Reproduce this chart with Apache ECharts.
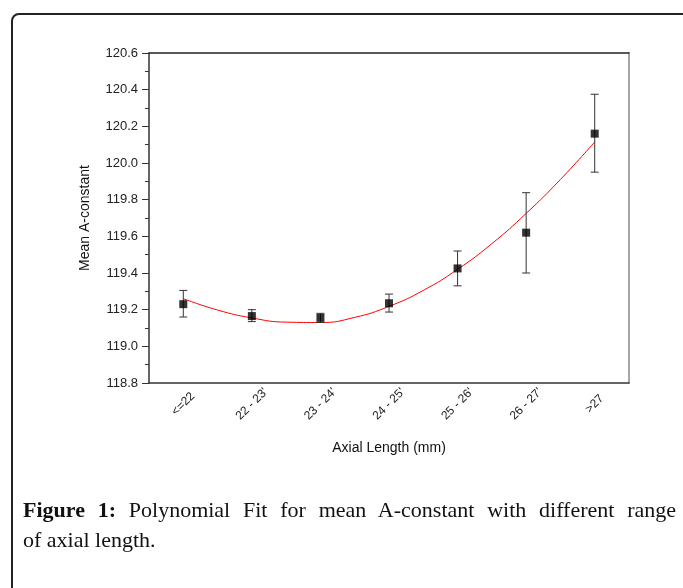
<!DOCTYPE html>
<html>
<head>
<meta charset="UTF-8">
<title>A-constant fit</title>
<script src="https://cdn.jsdelivr.net/npm/echarts@6/dist/echarts.min.js"></script>
<style type="text/css">
  body { margin:0; background:#fff; }
  #frame {
    position:absolute; left:11px; top:13px; width:700px; height:600px;
    border:2px solid #222; border-radius:8px;
  }
  #main { position:absolute; left:0; top:0; width:683px; height:588px; }
  #caption {
    position:absolute; left:23px; top:495px; width:653px;
    font-family:"Liberation Serif", "DejaVu Serif", serif;
    font-size:22px; line-height:30px; color:#111;
  }
  #caption .l1 { text-align:justify; text-align-last:justify; }
  #caption b { font-weight:bold; }
</style>
<script>
// categories + means
var cats = ['<=22', "22 - 23'", "23 - 24'", "24 - 25'", "25 - 26'", "26 - 27'", '>27'];
var means = [119.23, 119.165, 119.155, 119.235, 119.425, 119.62, 120.16];
var errLow = [119.16, 119.135, 119.13, 119.187, 119.33, 119.40, 119.95];
var errHigh = [119.305, 119.2, 119.18, 119.285, 119.52, 119.838, 120.375];
// fitted curve read at half-category steps
var fitX = [0, 0.5, 1, 1.5, 2, 2.5, 3, 3.5, 4, 4.5, 5, 5.5, 6];
var fitY = [119.26, 119.198, 119.155, 119.132, 119.13, 119.158, 119.218, 119.305, 119.42, 119.56, 119.725, 119.91, 120.115];
var yMin = 118.8, yMax = 120.6, yStep = 0.2;
</script>
</head>
<body>
<div id="frame"></div>
<div id="main"></div>
<div id="caption">
  <div class="l1"><b>Figure 1:</b> Polynomial Fit for mean A-constant with different range</div>
  <div>of axial length.</div>
</div>
<script>
  var myChart = echarts.init(document.getElementById('main'));
  var font = 'Liberation Sans, Arial, sans-serif';

  var errData = [];
  for (var i = 0; i < cats.length; i++) errData.push([i, errLow[i], errHigh[i]]);
  var fitData = [];
  for (var j = 0; j < fitX.length; j++) fitData.push([fitX[j], fitY[j]]);

  var option = {
    animation: false,
    grid: { left:149, right:54, top:53, bottom:205 },
    xAxis: [
      {
        type:'category', data:cats, boundaryGap:true, position:'bottom',
        name:'Axial Length (mm)', nameLocation:'middle', nameGap:58,
        nameTextStyle:{ fontFamily:font, fontSize:14, color:'#111' },
        axisLine:{ onZero:false, lineStyle:{ color:'#333', width:1.5 } },
        axisTick:{ alignWithLabel:true, length:6, lineStyle:{ color:'#333' } },
        axisLabel:{ rotate:45, align:'center', verticalAlign:'middle', fontFamily:font,
          fontSize:12, color:'#222', margin:21, interval:0 },
        splitLine:{ show:false }
      },
      {
        type:'category', data:cats, boundaryGap:true, position:'bottom',
        axisLine:{ show:false, onZero:false },
        axisTick:{ length:3, lineStyle:{ color:'#333' } },
        axisLabel:{ show:false }, splitLine:{ show:false }
      },
      { type:'value', min:-0.5, max:6.5, show:false, axisLine:{ onZero:false } },
      {
        type:'category', data:cats, position:'top',
        axisLine:{ onZero:false, lineStyle:{ color:'#222', width:1.5 } },
        axisTick:{ show:false }, axisLabel:{ show:false }
      }
    ],
    yAxis: [
      {
        type:'value', min:yMin, max:yMax, interval:yStep, position:'left',
        name:'Mean A-constant', nameLocation:'middle', nameGap:57,
        nameTextStyle:{ fontFamily:font, fontSize:14, color:'#111' },
        axisLine:{ show:true, onZero:false, lineStyle:{ color:'#333', width:1.5 } },
        axisTick:{ show:true, length:7, lineStyle:{ color:'#333' } },
        minorTick:{ show:true, splitNumber:2, length:4, lineStyle:{ color:'#333' } },
        axisLabel:{ fontFamily:font, fontSize:13, color:'#222', margin:11,
          formatter:function (v) { return v.toFixed(1); } },
        splitLine:{ show:false }
      },
      {
        type:'value', min:yMin, max:yMax, interval:yStep, position:'right',
        axisLine:{ show:true, onZero:false, lineStyle:{ color:'#888', width:1.5 } },
        axisTick:{ show:false }, axisLabel:{ show:false }, splitLine:{ show:false }
      }
    ],
    series: [
      {
        name:'fit', type:'line', xAxisIndex:2, yAxisIndex:0, data:fitData,
        smooth:true, showSymbol:false, lineStyle:{ color:'#f00', width:1 }, z:2
      },
      {
        name:'error', type:'custom', xAxisIndex:0, yAxisIndex:0, data:errData, z:3,
        renderItem:function (params, api) {
          var x = api.value(0);
          var top = api.coord([x, api.value(2)]);
          var bot = api.coord([x, api.value(1)]);
          var w = 4;
          var st = { stroke:'#333', lineWidth:1 };
          return {
            type:'group',
            children:[
              { type:'line', shape:{ x1:top[0], y1:top[1], x2:bot[0], y2:bot[1] }, style:st },
              { type:'line', shape:{ x1:top[0]-w, y1:top[1], x2:top[0]+w, y2:top[1] }, style:st },
              { type:'line', shape:{ x1:bot[0]-w, y1:bot[1], x2:bot[0]+w, y2:bot[1] }, style:st }
            ]
          };
        }
      },
      {
        name:'mean', type:'scatter', xAxisIndex:0, yAxisIndex:0, data:means,
        symbol:'rect', symbolSize:8, itemStyle:{ color:'#000' }, z:4
      }
    ]
  };
  myChart.setOption(option);
</script>
</body>
</html>
